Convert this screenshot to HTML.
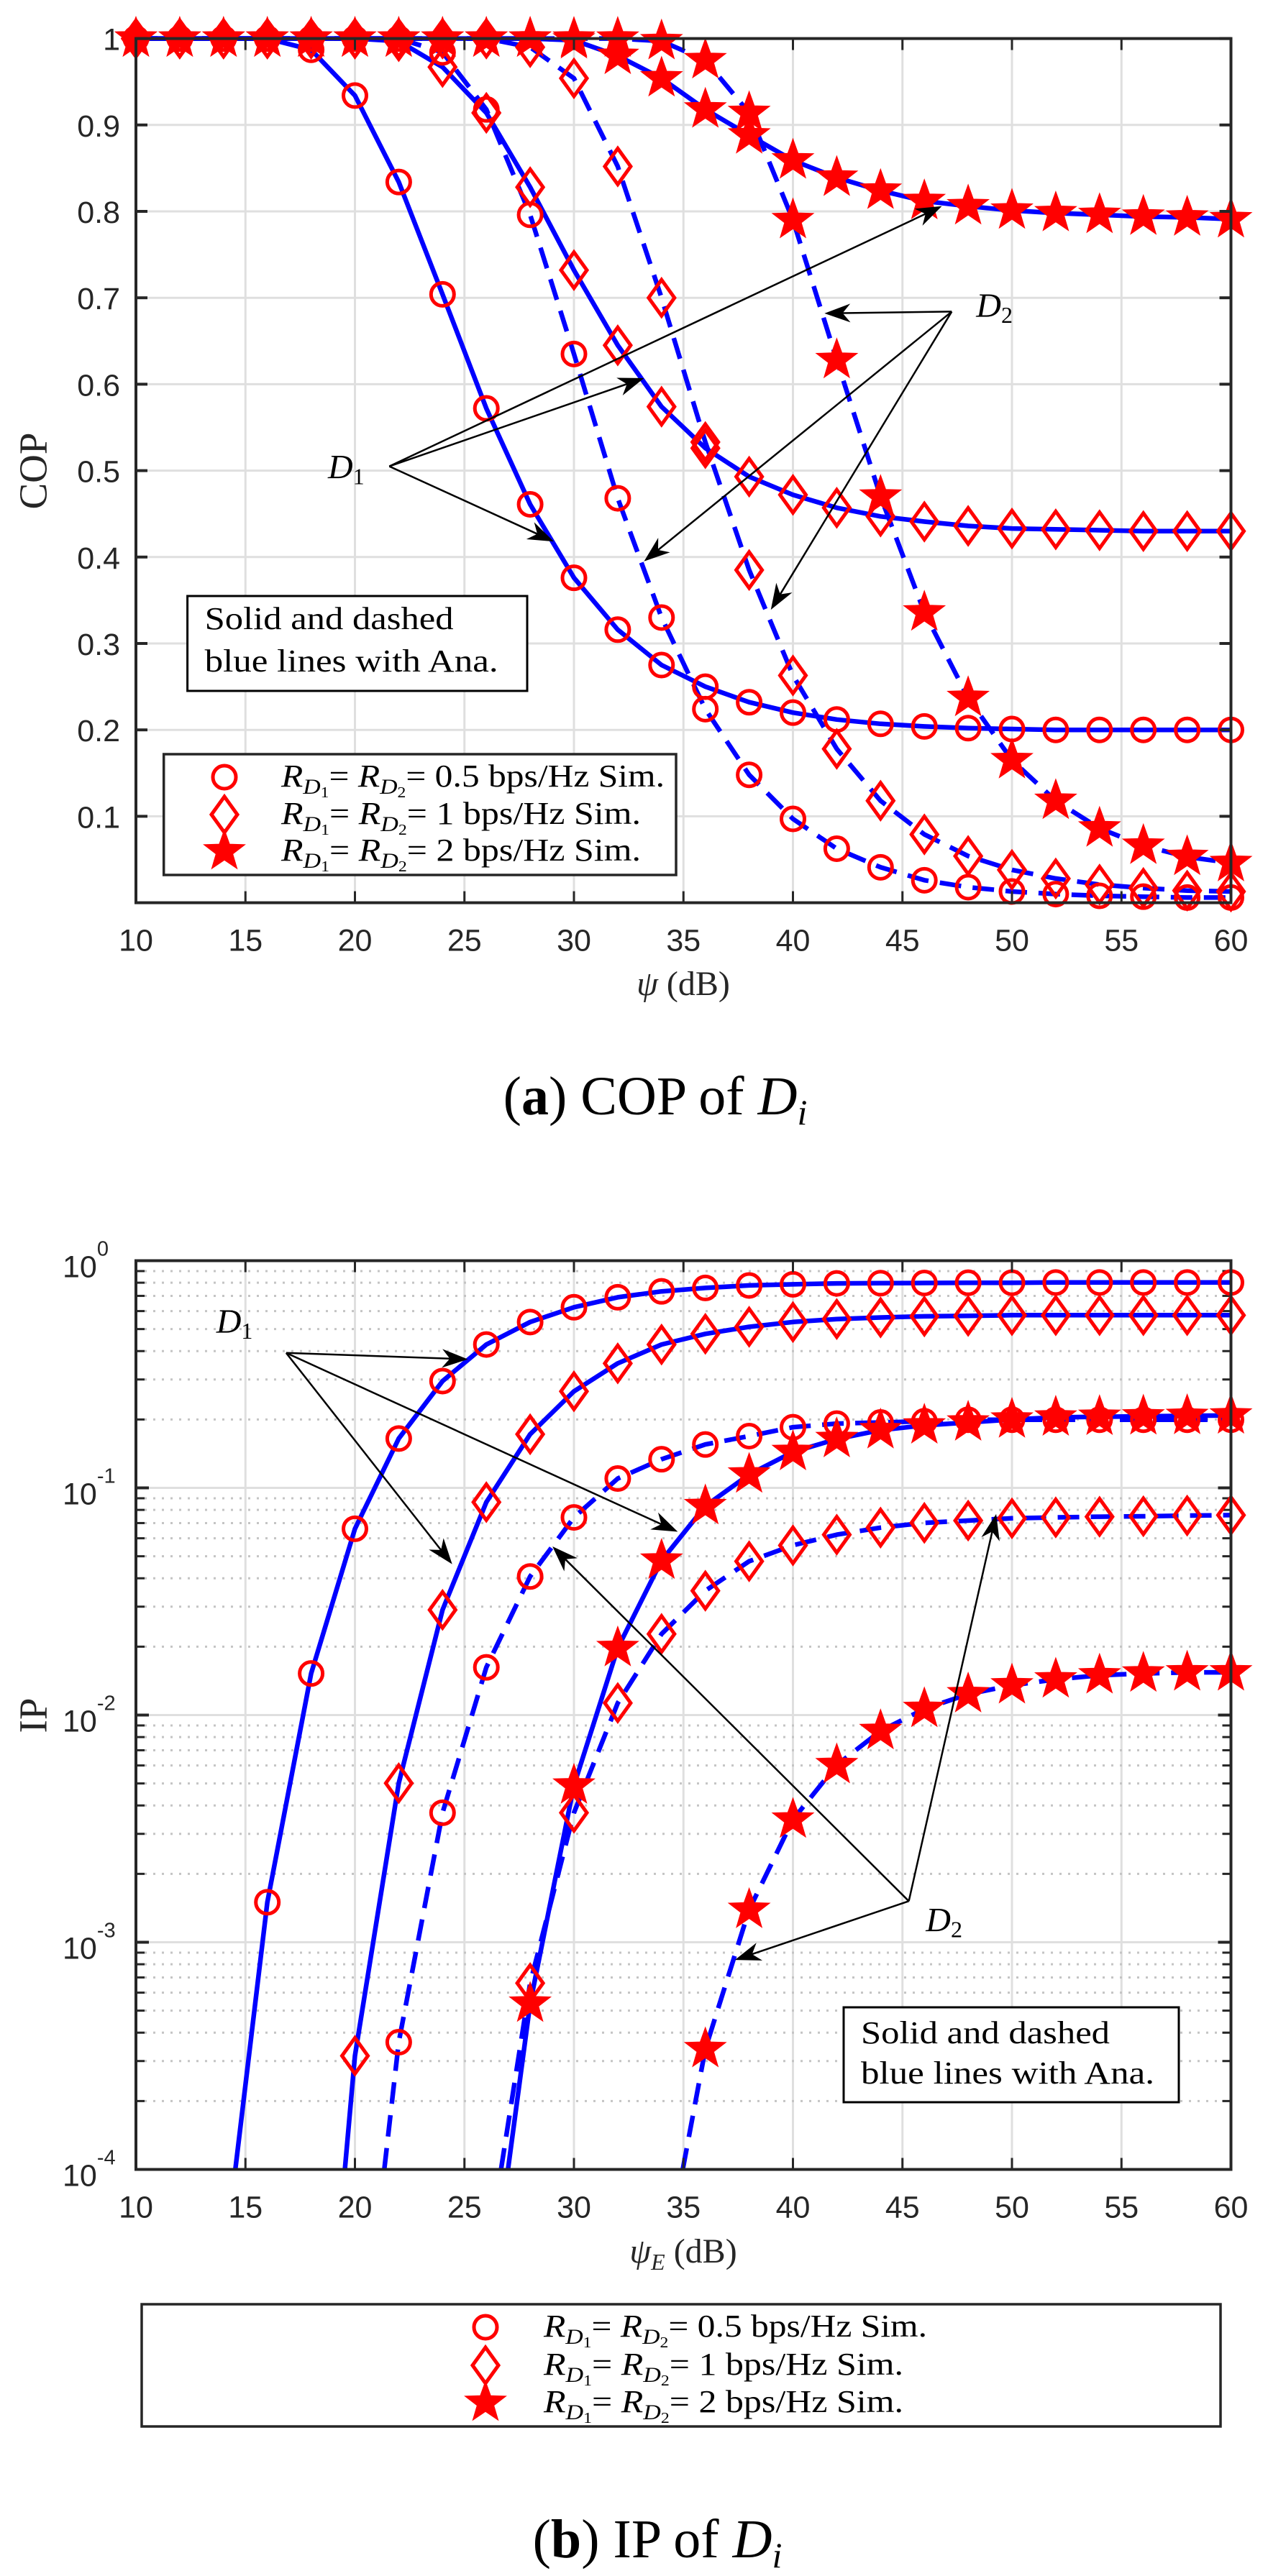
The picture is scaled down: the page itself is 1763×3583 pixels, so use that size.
<!DOCTYPE html>
<html><head><meta charset="utf-8">
<style>
html,body{margin:0;padding:0;background:#fff;}
svg{display:block;}
text{font-family:"Liberation Serif",serif;}
.tk{font-family:"Liberation Sans",sans-serif;font-size:43px;fill:#262626;}
</style></head>
<body>
<svg id="s" width="1763" height="3583" viewBox="0 0 1763 3583" xmlns="http://www.w3.org/2000/svg">
<rect width="1763" height="3583" fill="#fff"/>
<text x="52" y="655" font-size="55" text-anchor="middle" fill="#262626" transform="rotate(-90 52 655)" dominant-baseline="middle">COP</text>
<text x="52" y="2386" font-size="55" text-anchor="middle" fill="#262626" transform="rotate(-90 52 2386)" dominant-baseline="middle">IP</text>
<text x="950" y="1384" font-size="48" text-anchor="middle" fill="#262626"><tspan font-style="italic">ψ</tspan> (dB)</text>
<text x="950" y="3147" font-size="48" text-anchor="middle" fill="#262626"><tspan font-style="italic">ψ</tspan><tspan font-size="32" dy="10" font-style="italic">E</tspan><tspan dy="-10"> (dB)</tspan></text>
<text x="911" y="1550" font-size="76" text-anchor="middle" fill="#000">(<tspan font-weight="bold">a</tspan>) COP of <tspan font-style="italic">D</tspan><tspan font-style="italic" font-size="50" dy="14">i</tspan></text>
<text x="914" y="3557" font-size="76" text-anchor="middle" fill="#000">(<tspan font-weight="bold">b</tspan>) IP of <tspan font-style="italic">D</tspan><tspan font-style="italic" font-size="50" dy="14">i</tspan></text>
<g id="g"></g>
</svg>
<script>
var G=document.getElementById("g"),h="";
function X(x){return 189+(x-10)*30.45;}
function Y1(y){return 53.6+(1-y)*1202;}
function Y2(l){return 1753.5-l*316;}
var L=189,R=1711.5;
var T1=53.6,B1=1255.6;
for(var x=15;x<60;x+=5)h+='<line x1="'+X(x)+'" y1="'+T1+'" x2="'+X(x)+'" y2="'+B1+'" stroke="#dfdfdf" stroke-width="3"/>';
for(var k=1;k<10;k++){var y=Y1(k/10);h+='<line x1="'+L+'" y1="'+y+'" x2="'+R+'" y2="'+y+'" stroke="#dfdfdf" stroke-width="3"/>';}
var T2=1753.5,B2=3017.5;
for(var x=15;x<60;x+=5)h+='<line x1="'+X(x)+'" y1="'+T2+'" x2="'+X(x)+'" y2="'+B2+'" stroke="#dfdfdf" stroke-width="3"/>';
for(var d=-4;d<0;d++){for(var m=2;m<10;m++){var y=Y2(d+Math.log10(m));h+='<line x1="'+L+'" y1="'+y+'" x2="'+R+'" y2="'+y+'" stroke="#c4c4c4" stroke-width="3" stroke-dasharray="3,9"/>';
 h+='<line x1="'+L+'" y1="'+y+'" x2="'+(L+12)+'" y2="'+y+'" stroke="#262626" stroke-width="3"/><line x1="'+(R-12)+'" y1="'+y+'" x2="'+R+'" y2="'+y+'" stroke="#262626" stroke-width="3"/>';}
 if(d>-4){var y=Y2(d);h+='<line x1="'+L+'" y1="'+y+'" x2="'+R+'" y2="'+y+'" stroke="#dfdfdf" stroke-width="3"/>';}}
var xs=[];for(var x=10;x<=60;x+=2)xs.push(x);
function pad(a){var n=26-a.length,r=[];for(var i=0;i<n;i++)r.push(1);return r.concat(a);}
var top_={
cs:pad([.987,.934,.834,.704,.572,.461,.376,.316,.275,.25,.232,.22,.212,.207,.204,.202,.201,.2,.2,.2,.2,.2]),
cd:pad([.984,.918,.796,.635,.468,.33,.224,.148,.097,.0625,.041,.026,.018,.013,.01,.008,.007,.006,.006]),
ds:pad([.997,.967,.914,.828,.732,.645,.574,.526,.493,.472,.457,.447,.441,.436,.433,.432,.431,.43,.43,.43]),
dd:pad([.99,.954,.852,.7,.533,.385,.263,.178,.118,.079,.054,.038,.028,.021,.017,.014,.013]),
ss:pad([.998,.98,.954,.918,.888,.859,.839,.824,.812,.806,.801,.798,.796,.794,.793,.791]),
sd:pad([.997,.975,.914,.79,.628,.47,.336,.237,.165,.118,.086,.066,.053,.046])};
function ptsTop(a){var p=[];for(var i=0;i<26;i++)p.push(X(xs[i]).toFixed(1)+','+Y1(a[i]).toFixed(1));return p.join(' ');}
function line(p,dash){return '<polyline points="'+p+'" fill="none" stroke="#0000ff" stroke-width="6.5" stroke-linejoin="round"'+(dash?' stroke-dasharray="30,16"':'')+'/>';}
function circ(x,y){return '<circle cx="'+x+'" cy="'+y+'" r="16" fill="none" stroke="#ff0000" stroke-width="5"/>';}
function diam(x,y){return '<polygon points="'+x+','+(y-25)+' '+(x+18)+','+y+' '+x+','+(y+25)+' '+(x-18)+','+y+'" fill="none" stroke="#ff0000" stroke-width="5"/>';}
function star(x,y){var p=[];for(var i=0;i<10;i++){var r=i%2?11:27,a=-Math.PI/2+i*Math.PI/5;p.push((x+r*Math.cos(a)).toFixed(1)+','+(y+r*Math.sin(a)).toFixed(1));}return '<polygon points="'+p.join(' ')+'" fill="#ff0000" stroke="#ff0000" stroke-width="3"/>';}
var mk={c:circ,d:diam,s:star};
['cs','cd','ds','dd','ss','sd'].forEach(function(k){h+=line(ptsTop(top_[k]),k[1]=='d');});
['cs','cd','ds','dd','ss','sd'].forEach(function(k){for(var i=0;i<26;i++)h+=mk[k[0]](X(xs[i]),Y1(top_[k][i]));});
var bot={
cs:[14.54,16,[-2.824,-1.817,-1.18,-0.783,-0.53,-0.369,-0.27,-0.205,-0.161,-0.135,-0.12,-0.109,-0.104,-0.1,-0.099,-0.098,-0.097,-0.097,-0.096,-0.096,-0.096,-0.096,-0.096]],
ds:[19.54,20,[-3.5,-2.3,-1.537,-1.063,-0.764,-0.575,-0.452,-0.369,-0.322,-0.291,-0.27,-0.257,-0.25,-0.245,-0.243,-0.24,-0.24,-0.24,-0.24,-0.24,-0.24]],
cd:[21.34,22,[-3.44,-2.43,-1.79,-1.39,-1.13,-0.959,-0.874,-0.809,-0.772,-0.733,-0.717,-0.712,-0.707,-0.7,-0.7,-0.7,-0.7,-0.7,-0.7,-0.7]],
ss:[26.99,28,[-3.27,-2.31,-1.705,-1.32,-1.08,-0.941,-0.842,-0.785,-0.746,-0.725,-0.712,-0.699,-0.69,-0.687,-0.685,-0.683,-0.681]],
dd:[26.67,28,[-3.18,-2.43,-1.947,-1.643,-1.453,-1.323,-1.253,-1.206,-1.175,-1.154,-1.144,-1.134,-1.13,-1.127,-1.125,-1.122,-1.12]],
sd:[34.97,36,[-3.47,-2.857,-2.46,-2.22,-2.07,-1.973,-1.908,-1.869,-1.843,-1.825,-1.817,-1.812,-1.812]]};
['cs','ds','cd','ss','dd','sd'].forEach(function(k){var b=bot[k],p=[X(b[0]).toFixed(1)+','+Y2(-4)];for(var i=0;i<b[2].length;i++)p.push(X(b[1]+2*i).toFixed(1)+','+Y2(b[2][i]).toFixed(1));h+=line(p.join(' '),k[1]=='d');});
['cs','ds','cd','ss','dd','sd'].forEach(function(k){var b=bot[k];for(var i=0;i<b[2].length;i++)h+=mk[k[0]](X(b[1]+2*i),Y2(b[2][i]));});
function box(t,b){h+='<rect x="'+L+'" y="'+t+'" width="'+(R-L)+'" height="'+(b-t)+'" fill="none" stroke="#262626" stroke-width="4"/>';
 for(var x=15;x<60;x+=5){h+='<line x1="'+X(x)+'" y1="'+b+'" x2="'+X(x)+'" y2="'+(b-16)+'" stroke="#262626" stroke-width="3"/><line x1="'+X(x)+'" y1="'+t+'" x2="'+X(x)+'" y2="'+(t+16)+'" stroke="#262626" stroke-width="3"/>';}
 for(var x=10;x<=60;x+=5)h+='<text class="tk" x="'+X(x)+'" y="'+(b+67)+'" text-anchor="middle">'+x+'</text>';}
box(T1,B1);box(T2,B2);
for(var k=1;k<=10;k++){var y=Y1(k/10);h+='<line x1="'+L+'" y1="'+y+'" x2="'+(L+16)+'" y2="'+y+'" stroke="#262626" stroke-width="4"/><line x1="'+(R-16)+'" y1="'+y+'" x2="'+R+'" y2="'+y+'" stroke="#262626" stroke-width="4"/>';
 h+='<text class="tk" x="167" y="'+(y+16)+'" text-anchor="end">'+(k==10?'1':'0.'+k)+'</text>';}
for(var d=-4;d<=0;d++){var y=Y2(d);h+='<line x1="'+L+'" y1="'+y+'" x2="'+(L+18)+'" y2="'+y+'" stroke="#262626" stroke-width="4"/><line x1="'+(R-18)+'" y1="'+y+'" x2="'+R+'" y2="'+y+'" stroke="#262626" stroke-width="4"/>';
 h+='<text class="tk" x="87" y="'+(y+23)+'">10<tspan font-size="29" dy="-30">'+(d==0?'0':'-'+(-d))+'</tspan></text>';}
function arr(x0,y0,x1,y1){var dx=x1-x0,dy=y1-y0,l=Math.hypot(dx,dy),ux=dx/l,uy=dy/l,px=-uy,py=ux,hl=36,hw=13;
 var bx=x1-ux*hl,by=y1-uy*hl,cx=x1-ux*hl*0.7,cy=y1-uy*hl*0.7;
 h+='<line x1="'+x0+'" y1="'+y0+'" x2="'+cx+'" y2="'+cy+'" stroke="#000" stroke-width="2.5"/>';
 h+='<polygon points="'+x1+','+y1+' '+(bx+px*hw)+','+(by+py*hw)+' '+cx+','+cy+' '+(bx-px*hw)+','+(by-py*hw)+'" fill="#000"/>';}
function lab(x,y,n){h+='<text x="'+x+'" y="'+y+'" font-size="48" text-anchor="middle" dominant-baseline="middle"><tspan font-style="italic">D</tspan><tspan font-size="32" dy="12">'+n+'</tspan></text>';}
var o=[X(21.57),Y1(.505)];
arr(o[0],o[1],X(46.8),Y1(.806));arr(o[0],o[1],X(33.2),Y1(.607));arr(o[0],o[1],X(29.08),Y1(.418));
lab(X(19.6),Y1(.5),1);
o=[X(47.25),Y1(.684)];
arr(o[0],o[1],X(41.44),Y1(.682));arr(o[0],o[1],X(33.2),Y1(.395));arr(o[0],o[1],X(38.99),Y1(.339));
lab(X(49.2),Y1(.687),2);
o=[X(16.86),Y2(-.406)];
arr(o[0],o[1],X(25.16),Y2(-.434));arr(o[0],o[1],X(24.44),Y2(-1.336));arr(o[0],o[1],X(34.74),Y2(-1.193));
lab(X(14.5),Y2(-.283),1);
o=[X(45.29),Y2(-2.819)];
arr(o[0],o[1],X(29.02),Y2(-1.258));arr(o[0],o[1],X(49.28),Y2(-1.115));arr(o[0],o[1],X(37.35),Y2(-3.078));
lab(X(46.9),Y2(-2.917),2);
function tbox(x0,y0,x1,y1,ya,yb){h+='<rect x="'+x0+'" y="'+y0+'" width="'+(x1-x0)+'" height="'+(y1-y0)+'" fill="#fff" stroke="#000" stroke-width="3"/>';
 h+='<text x="'+(x0+24)+'" y="'+ya+'" font-size="44" textLength="346" lengthAdjust="spacingAndGlyphs">Solid and dashed</text><text x="'+(x0+24)+'" y="'+yb+'" font-size="44" textLength="408" lengthAdjust="spacingAndGlyphs">blue lines with Ana.</text>';}
tbox(260.6,829,733,961,875,934);
tbox(1173,2792,1639,2924,2842,2898);
function rtxt(x,y,v,w){return '<text x="'+x+'" y="'+y+'" font-size="44" textLength="'+w+'" lengthAdjust="spacingAndGlyphs"><tspan font-style="italic">R</tspan><tspan font-style="italic" font-size="30" dy="10">D</tspan><tspan font-size="21" dy="5">1</tspan><tspan dy="-15">= </tspan><tspan font-style="italic">R</tspan><tspan font-style="italic" font-size="30" dy="10">D</tspan><tspan font-size="21" dy="5">2</tspan><tspan dy="-15">= '+v+' bps/Hz Sim.</tspan></text>';}
function legend(x0,y0,x1,y1,mx,tx,rows){h+='<rect x="'+x0+'" y="'+y0+'" width="'+(x1-x0)+'" height="'+(y1-y0)+'" fill="#fff" stroke="#262626" stroke-width="3.5"/>';
 var v=['0.5','1','2'],w=[533,500,500],f=[circ,diam,star];for(var i=0;i<3;i++){h+=f[i](mx,rows[i]);h+=rtxt(tx,rows[i]+13,v[i],w[i]);}}
legend(227.7,1049,940,1217,312,391,[1081,1133,1184]);
legend(197,3205,1697,3375,675,756,[3237,3290,3342]);
G.innerHTML=h;
</script>
</body></html>
